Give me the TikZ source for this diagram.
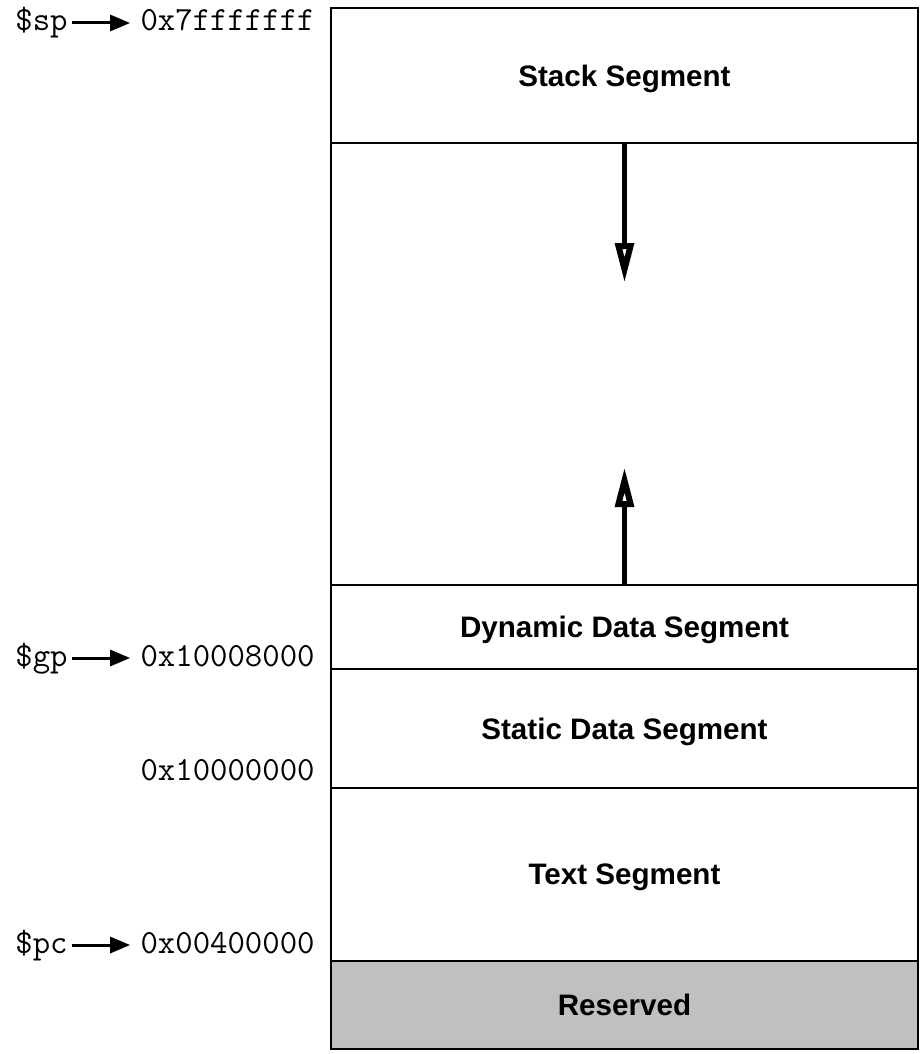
\documentclass[tikz,border=0pt]{standalone}
\usepackage{fontspec}
\setmainfont{Liberation Sans}
\usetikzlibrary{positioning,arrows.meta}
\tikzset{
  segbox/.style={draw, line width=1.2pt, outer sep=0pt, minimum width=293.5pt,
    font=\fontsize{14.8}{17}\selectfont\bfseries, text depth=0pt},
  reg/.style={inner sep=0pt, font=\fontsize{16.9}{19}\selectfont\ttfamily,
    text height=10pt, text depth=2pt},
  regarrow/.style={line width=1.5pt, -{Triangle[length=10pt,width=8pt]},
    shorten <=2pt, shorten >=5pt},
  growarrow/.style={line width=2.2pt, -{Triangle[open,length=20pt,width=9pt,line width=3pt]}}
}
\begin{document}
\begin{tikzpicture}[x=0.5pt,y=-0.5pt]
        \useasboundingbox (0,0) rectangle (922,1054);
        %segments
        \node[segbox, minimum height=67.5pt] (stack) at (624.5,75.5) {Stack Segment};
        \node[segbox, minimum height=221pt, below=0pt of stack] (heap) {};
        \node[segbox, minimum height=42pt, below=0pt of heap] (dynamic) {Dynamic Data Segment};
        \node[segbox, minimum height=59.5pt, below=0pt of dynamic] (static) {Static Data Segment};
        \node[segbox, minimum height=86.5pt, below=0pt of static] (text) {Text Segment};
        \node[segbox, minimum height=44pt, below=0pt of text, fill={rgb,255:red,192;green,192;blue,192}] (reserved) {Reserved};
        %growth
        \coordinate (stackend) at (624.5,283);
        \coordinate (heapend) at (624.5,467);
        \draw[growarrow] (heap.north) -- (stackend);
        \draw[growarrow] (heap.south) -- (heapend);
        %addresses
        \node[reg, anchor=base east] (spaddr) at (315,31) {0x7fffffff};
        \node[reg, anchor=base east] (gpaddr) at (315,666) {0x10008000};
        \node[reg, anchor=base east] (dataaddr) at (315,780) {0x10000000};
        \node[reg, anchor=base east] (pcaddr) at (315,953) {0x00400000};
        %registers
        \node[reg, anchor=base east] (sp) at (68,31) {\$sp};
        \node[reg, anchor=base east] (gp) at (68,666) {\$gp};
        \node[reg, anchor=base east] (pc) at (68,953) {\$pc};
        \draw[regarrow] (sp.east) -- (spaddr.west);
        \draw[regarrow] (gp.east) -- (gpaddr.west);
        \draw[regarrow] (pc.east) -- (pcaddr.west);
\end{tikzpicture}
\end{document}
